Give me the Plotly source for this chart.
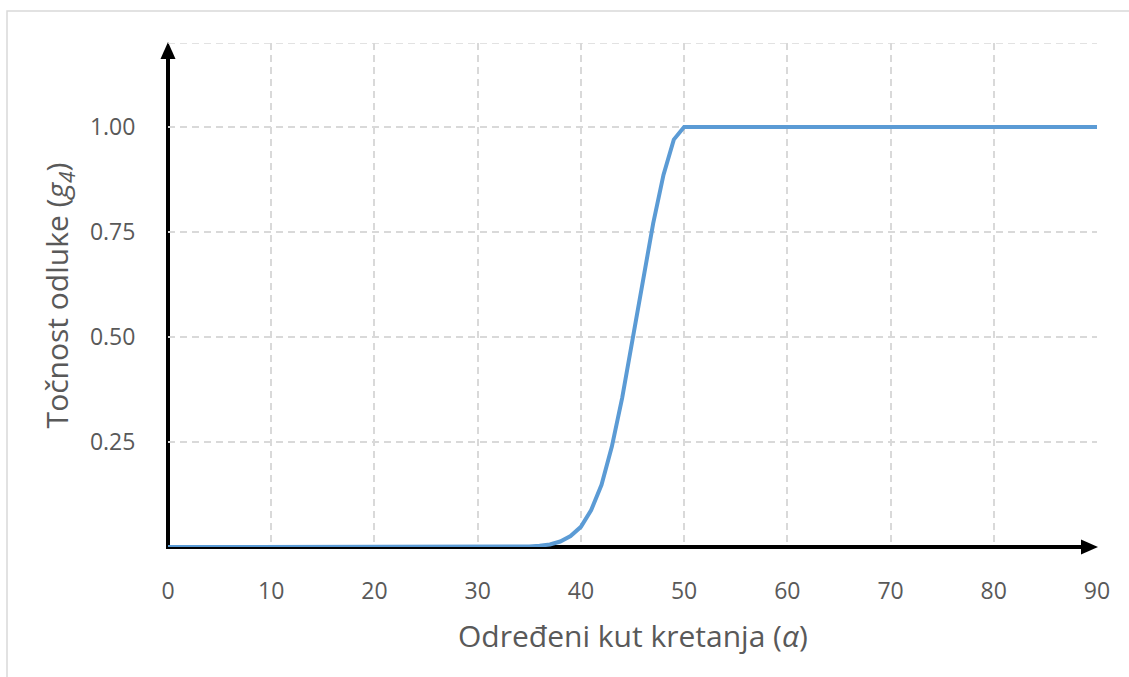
import plotly.graph_objects as go

# Decision accuracy g4 as a function of the determined movement angle
angle = [0, 34, 35, 36, 37, 38, 39, 40, 41, 42, 43, 44, 45, 46, 47, 48, 49, 50, 90]
accuracy = [0, 0, 0.001, 0.003, 0.006, 0.013, 0.026, 0.048, 0.088, 0.148,
            0.239, 0.355, 0.493, 0.636, 0.77, 0.886, 0.97, 1.0, 1.0]

x_ticks = [0, 10, 20, 30, 40, 50, 60, 70, 80, 90]
y_ticks = [0.25, 0.50, 0.75, 1.00]
y_tick_text = ["0.25", "0.50", "0.75", "1.00"]

X_MAX = 90
Y_MAX = 1.2

# plot area size in pixels (used for the axis arrows)
PLOT_W = 929
PLOT_H = 504
HEAD = 16

FONT = "Open Sans, Noto Sans, sans-serif"
TEXT = "#595959"
GRID = "#d9d9d9"
DASH = "7px,5px"

fig = go.Figure()
fig.add_trace(go.Scatter(
    x=angle, y=accuracy, mode="lines",
    line=dict(color="#5b9bd5", width=4),
    hoverinfo="skip", showlegend=False,
))

axis_common = dict(
    showgrid=True, gridcolor=GRID, gridwidth=1.5, griddash=DASH,
    zeroline=False, showline=False,
    ticks="outside", tickcolor="rgba(0,0,0,0)",
    tickfont=dict(family=FONT, size=23, color=TEXT),
    fixedrange=True,
)

fig.update_xaxes(range=[0, X_MAX], tickvals=x_ticks, ticklen=23, **axis_common)
fig.update_yaxes(range=[0, Y_MAX], tickvals=y_ticks, ticktext=y_tick_text,
                 ticklen=27, **axis_common)

shapes = [
    # outer chart frame
    dict(type="rect", xref="paper", yref="paper",
         x0=-0.1733, x1=1.05, y0=-0.30, y1=1.0635,
         line=dict(color=GRID, width=1.5), layer="below"),
    # dashed top border of the plot area
    dict(type="line", xref="x", yref="y", x0=0, x1=X_MAX, y0=Y_MAX, y1=Y_MAX,
         line=dict(color=GRID, width=1.5, dash=DASH), layer="below"),
    # black axis lines (paper-referenced so they are not clipped at the edges)
    dict(type="line", xref="paper", yref="paper",
         x0=-2 / PLOT_W, x1=1 - (HEAD - 1) / PLOT_W, y0=0, y1=0,
         line=dict(color="black", width=4), layer="below"),
    dict(type="line", xref="paper", yref="paper",
         x0=0, x1=0, y0=-2 / PLOT_H, y1=1 - (HEAD - 1) / PLOT_H,
         line=dict(color="black", width=4), layer="below"),
    # arrow heads
    dict(type="path", xref="paper", yref="paper", xsizemode="pixel", ysizemode="pixel",
         xanchor=1, yanchor=0, path=f"M-{HEAD},-7.5 L1,0 L-{HEAD},7.5 Z",
         fillcolor="black", line=dict(width=0), layer="below"),
    dict(type="path", xref="paper", yref="paper", xsizemode="pixel", ysizemode="pixel",
         xanchor=0, yanchor=1, path=f"M-7.5,-{HEAD} L0,1 L7.5,-{HEAD} Z",
         fillcolor="black", line=dict(width=0), layer="below"),
]

annotations = [
    dict(text="Određeni kut kretanja (<i>α</i>)", xref="paper", yref="paper",
         x=0.5, y=-0.175, xanchor="center", yanchor="middle", showarrow=False,
         font=dict(family=FONT, size=30, color=TEXT)),
    dict(text="Točnost odluke (<i>g</i><sub><i>4</i></sub>)", xref="paper", yref="paper",
         x=-0.118, y=0.5, xanchor="center", yanchor="middle", showarrow=False,
         textangle=-90, font=dict(family=FONT, size=30, color=TEXT)),
]

fig.update_layout(
    width=1129, height=677,
    margin=dict(l=168, r=32, t=43, b=130),
    paper_bgcolor="white", plot_bgcolor="white",
    shapes=shapes, annotations=annotations,
    showlegend=False,
)

fig.write_html("out.html", config={"displayModeBar": False})
